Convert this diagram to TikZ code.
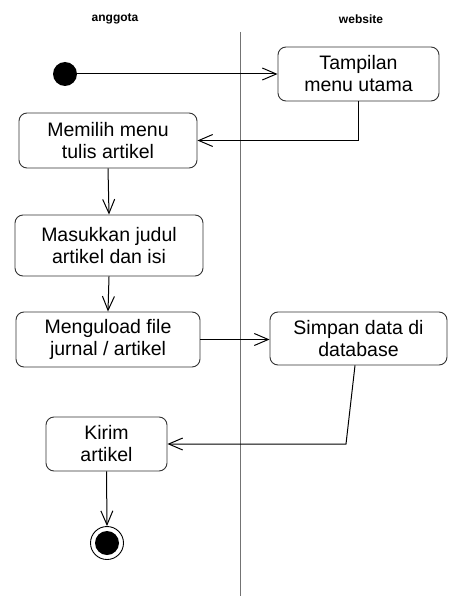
\documentclass[tikz,border=0pt]{standalone}
\usepackage{fontspec}
\setmainfont{Liberation Sans}
\usetikzlibrary{arrows.meta}
\tikzset{
  act/.style={draw=black!80, line width=0.9pt, rounded corners=8pt, align=center,
    inner sep=0pt, font=\fontsize{19.5}{22}\selectfont},
  flow/.style={draw=black, line width=1pt, -{Straight Barb[length=14pt,width=12pt,line width=1pt]}},
  lane/.style={draw=black!55, line width=1pt},
  hdr/.style={font=\bfseries\fontsize{12}{14}\selectfont, inner sep=0pt},
}
\begin{document}
\begin{tikzpicture}[x=1pt,y=-1pt]
\useasboundingbox[fill=white] (0,0) rectangle (472,596);
% headers
\node[hdr] (h1) at (115,19) {anggota};
\node[hdr] (h2) at (361,19) {website};
% lane separator
\coordinate (lt) at (240,32);
\coordinate (lb) at (240,596);
\draw[lane] (lt) -- (lb);
% nodes
\node[circle, fill=black, minimum size=24pt, inner sep=0pt] (init) at (65,74) {};
\node[act, minimum width=161pt, minimum height=54pt] (tamp) at (358.5,74) {Tampilan\\menu utama};
\node[act, minimum width=178pt, minimum height=55pt] (pilih) at (108,140.5) {Memilih menu\\tulis artikel};
\node[act, minimum width=188pt, minimum height=61pt] (masuk) at (109,245.5) {Masukkan judul\\artikel dan isi};
\node[act, minimum width=184pt, minimum height=55pt] (upload) at (108,339.5) {Menguload file\\jurnal / artikel};
\node[act, minimum width=177pt, minimum height=53pt] (simpan) at (358.5,338.5) {Simpan data di\\database};
\node[act, minimum width=121pt, minimum height=54pt] (kirim) at (106.5,444) {Kirim\\artikel};
\node[circle, draw=black, line width=0.9pt, minimum size=33pt, inner sep=0pt] (final) at (107,543) {};
\node[circle, fill=black, minimum size=24pt, inner sep=0pt] (finalin) at (final) {};
% connectors
\draw[flow] (init) -- (tamp.west);
\draw[flow] (tamp.south) |- (pilih.east);
\draw[flow] (pilih.south) -- (masuk.north);
\draw[flow] (masuk.south) -- (upload.north);
\draw[flow] (upload.east) -- (upload.east -| simpan.west);
\coordinate (sb) at ([xshift=-3.5pt]simpan.south);
\coordinate (bend) at (346,444);
\draw[flow] (sb) -- (bend) -- (kirim.east);
\draw[flow] (kirim.south) -- (final.north);
\end{tikzpicture}
\end{document}
